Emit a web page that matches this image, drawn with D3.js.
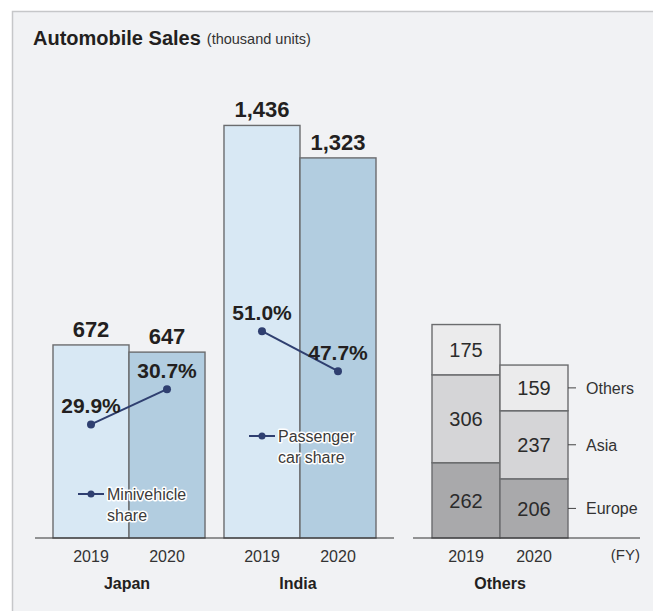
<!DOCTYPE html>
<html>
<head>
<meta charset="utf-8">
<script src="https://cdn.jsdelivr.net/npm/d3@7"></script>
<style>
  html, body { margin: 0; padding: 0; background: #ffffff; }
  svg { display: block; font-family: "Liberation Sans", Arial, sans-serif; }
</style>
</head>
<body>
<svg id="chart" width="653" height="611"></svg>
<script>
// ---- data (thousand units) ----
const years = ["2019", "2020"];
const regions = ["Japan", "India"];
const japanSales = [672, 647];
const indiaSales = [1436, 1323];
const japanMiniShare = [29.9, 30.7];        // minivehicle share, %
const indiaPassengerShare = [51.0, 47.7];   // passenger car share, %
const othersSeries = ["Europe", "Asia", "Others"];
const othersEurope = [262, 206];
const othersAsia = [306, 237];
const othersOther = [175, 159];

const salesByRegion = { Japan: japanSales, India: indiaSales };
const shareByRegion = { Japan: japanMiniShare, India: indiaPassengerShare };
const shareLegend = { Japan: ["Minivehicle", "share"], India: ["Passenger", "car share"] };

const svg = d3.select("#chart");
const W = 653, H = 611;
const baseY = 538;

// panel
svg.append("rect").attr("x", 12.5).attr("y", 11.5)
  .attr("width", W).attr("height", H)
  .attr("fill", "#f1f2f4").attr("stroke", "#c6c7c9").attr("stroke-width", 1.5);

// title
const title = svg.append("text").attr("x", 33).attr("y", 45).attr("fill", "#231f20");
title.append("tspan").attr("font-size", 20).attr("font-weight", "bold").text("Automobile Sales");
title.append("tspan").attr("font-size", 14.5).attr("dx", 6).attr("dy", -1).attr("fill", "#333").text("(thousand units)");

// scales
const y = d3.scaleLinear().domain([0, 1500]).range([baseY, baseY - 1500 * 0.2873]);
const xRegion = d3.scaleBand().domain(regions).range([53, 376]).paddingInner(0.111).paddingOuter(0);
const xYear = d3.scaleBand().domain(years).range([0, xRegion.bandwidth()]);
const xOthers = d3.scaleBand().domain(years).range([432, 568]);

const shareScale = {
  Japan: d3.scaleLinear().domain([29, 31]).range([464, 376]),
  India: d3.scaleLinear().domain([45, 52]).range([404, 319])
};

const barFill = { "2019": "#d8e8f4", "2020": "#b2cde0" };
const segFill = { Europe: "#a9a9ab", Asia: "#d5d5d7", Others: "#ebebec" };
const strokeCol = "#6b6c6e";

// Japan & India bars
regions.forEach(region => {
  const g = svg.append("g").attr("transform", `translate(${xRegion(region)},0)`);
  const vals = salesByRegion[region];
  years.forEach((yr, i) => {
    g.append("rect")
      .attr("x", xYear(yr)).attr("y", y(vals[i]))
      .attr("width", xYear.bandwidth()).attr("height", baseY - y(vals[i]))
      .attr("fill", barFill[yr]).attr("stroke", strokeCol).attr("stroke-width", 1.4);
    g.append("text")
      .attr("x", xYear(yr) + xYear.bandwidth() / 2).attr("y", y(vals[i]) - 8)
      .attr("text-anchor", "middle").attr("font-size", 22).attr("font-weight", "bold")
      .attr("fill", "#231f20").text(d3.format(",")(vals[i]));
  });

  // share line
  const sy = shareScale[region];
  const shares = shareByRegion[region];
  const pts = years.map((yr, i) => [xYear(yr) + xYear.bandwidth() / 2, sy(shares[i])]);
  g.append("path").attr("d", d3.line()(pts))
    .attr("fill", "none").attr("stroke", "#2f3f70").attr("stroke-width", 2);
  pts.forEach((p, i) => {
    g.append("circle").attr("cx", p[0]).attr("cy", p[1]).attr("r", 4).attr("fill", "#2f3f70");
    g.append("text").attr("x", p[0]).attr("y", p[1] - 11)
      .attr("text-anchor", "middle").attr("font-size", 21).attr("font-weight", "bold")
      .attr("fill", "#231f20").text(shares[i].toFixed(1) + "%");
  });

  // legend for share line
  const cx0 = xYear(years[0]) + xYear.bandwidth() / 2;
  const legY = region === "Japan" ? 500 : 442;
  g.append("line").attr("x1", cx0 - 13).attr("x2", cx0 + 13)
    .attr("y1", legY - 6).attr("y2", legY - 6)
    .attr("stroke", "#2f3f70").attr("stroke-width", 2);
  g.append("circle").attr("cx", cx0).attr("cy", legY - 6).attr("r", 3.5).attr("fill", "#2f3f70");
  const lt = g.append("text").attr("x", cx0 + 16).attr("y", legY)
    .attr("font-size", 16).attr("fill", "#3a3a3a")
    .attr("stroke", "#ffffff").attr("stroke-width", 3).attr("stroke-linejoin", "round")
    .attr("paint-order", "stroke");
  shareLegend[region].forEach((t, k) => {
    lt.append("tspan").attr("x", cx0 + 16).attr("dy", k === 0 ? 0 : 21).text(t);
  });

  // year axis
  const ax = g.append("g").attr("transform", `translate(0,${baseY})`)
    .call(d3.axisBottom(xYear).tickSize(0).tickPadding(12.5));
  ax.select(".domain").remove();
  ax.selectAll("text").attr("font-size", 16).attr("fill", "#333").attr("font-family", null);

  g.append("text").attr("x", xRegion.bandwidth() / 2 - 2).attr("y", 589)
    .attr("text-anchor", "middle").attr("font-size", 16).attr("font-weight", "bold")
    .attr("fill", "#231f20").text(region);
});

// Others stacked bars
const stackRows = years.map((yr, i) => ({
  year: yr, Europe: othersEurope[i], Asia: othersAsia[i], Others: othersOther[i]
}));
const stacked = d3.stack().keys(othersSeries)(stackRows);
const og = svg.append("g");
stacked.forEach(layer => {
  layer.forEach(d => {
    const yr = d.data.year;
    og.append("rect")
      .attr("x", xOthers(yr)).attr("y", y(d[1]))
      .attr("width", xOthers.bandwidth()).attr("height", y(d[0]) - y(d[1]))
      .attr("fill", segFill[layer.key]).attr("stroke", strokeCol).attr("stroke-width", 1.4);
    og.append("text")
      .attr("x", xOthers(yr) + xOthers.bandwidth() / 2)
      .attr("y", (y(d[0]) + y(d[1])) / 2 + 7.5)
      .attr("text-anchor", "middle").attr("font-size", 20).attr("fill", "#2b2b2b")
      .text(d[1] - d[0]);
  });
  // series label next to the 2020 column
  const last = layer[layer.length - 1];
  const my = (y(last[0]) + y(last[1])) / 2;
  const xr = xOthers.range()[1];
  og.append("line").attr("x1", xr).attr("x2", xr + 8).attr("y1", my).attr("y2", my)
    .attr("stroke", "#444").attr("stroke-width", 1);
  og.append("text").attr("x", xr + 18).attr("y", my + 6)
    .attr("font-size", 16).attr("fill", "#333").text(layer.key);
});

const oax = og.append("g").attr("transform", `translate(0,${baseY})`)
  .call(d3.axisBottom(xOthers).tickSize(0).tickPadding(12.5));
oax.select(".domain").remove();
oax.selectAll("text").attr("font-size", 16).attr("fill", "#333").attr("font-family", null);
og.append("text").attr("x", d3.mean(xOthers.range())).attr("y", 589)
  .attr("text-anchor", "middle").attr("font-size", 16).attr("font-weight", "bold")
  .attr("fill", "#231f20").text("Others");
og.append("text").attr("x", 640).attr("y", 560).attr("text-anchor", "end")
  .attr("font-size", 15).attr("fill", "#333").text("(FY)");

// baselines
const jiRange = [xRegion.range()[0] - 18, xRegion.range()[1] + 18];
svg.append("line").attr("x1", jiRange[0]).attr("x2", jiRange[1])
  .attr("y1", baseY).attr("y2", baseY).attr("stroke", "#333").attr("stroke-width", 1.2);
svg.append("line").attr("x1", xOthers.range()[0] - 19).attr("x2", 640)
  .attr("y1", baseY).attr("y2", baseY).attr("stroke", "#333").attr("stroke-width", 1.2);
</script>
</body>
</html>
